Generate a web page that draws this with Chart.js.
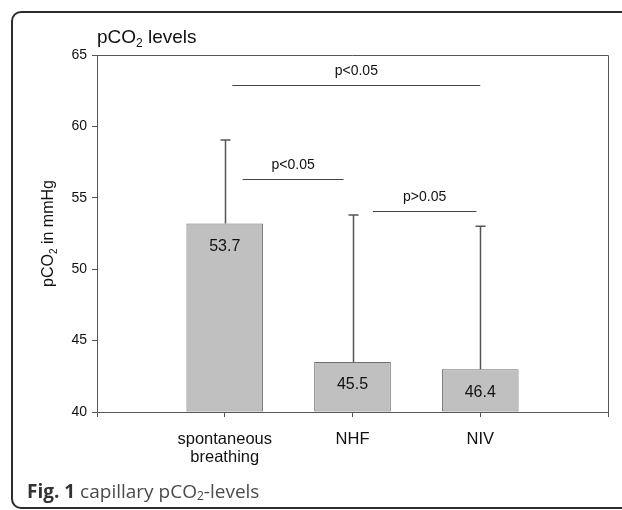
<!DOCTYPE html>
<html>
<head>
<meta charset="utf-8">
<script src="https://cdn.jsdelivr.net/npm/chart.js@4/dist/chart.umd.min.js"></script>
<style>
  body { margin: 0; background: #fff; }
  #wrap { position: relative; width: 622px; height: 510px; overflow: hidden; }
  #frame {
    position: absolute; left: 11px; top: 11px; width: 700px; height: 498px;
    box-sizing: border-box; border: 2px solid #2b2b2b; border-radius: 10px;
  }
  #chart { position: absolute; left: 0; top: 0; }
  #caption {
    position: absolute; left: 27px; top: 480px; line-height: 22px;
    font-family: "Open Sans", sans-serif; font-size: 19px; color: #4a4a4a; white-space: nowrap;
  }
  #caption b { color: #333; }
  #caption sub { font-size: 12px; vertical-align: -2px; }
</style>
</head>
<body>
<div id="wrap">
  <div id="frame"></div>
  <canvas id="chart" width="622" height="510"></canvas>
  <div id="caption"><b>Fig. 1</b> capillary pCO<sub>2</sub>-levels</div>
</div>
<script>
// カテゴリと値
const categories = [['spontaneous', 'breathing'], 'NHF', 'NIV'];
const xPositions = [1, 2, 3];
const barValues = [53.2, 43.5, 43.0];
const errorTop = [59.05, 53.8, 53.0];
const valueLabels = ['53.7', '45.5', '46.4'];
const yTicks = [40, 45, 50, 55, 60, 65];

// 有意差の表示
const sigText = ['p<0.05', 'p<0.05', 'p>0.05'];
const sigFrom = [1.06, 1.14, 2.16];
const sigTo = [3.0, 1.93, 2.97];
const sigLevel = [62.9, 56.3, 54.05];

const FONT = '"Liberation Sans", Arial, sans-serif';
const AXIS = '#555';

// エラーバー・ラベル・枠などを描くプラグイン
const extrasPlugin = {
  id: 'extras',
  afterDatasetsDraw(chart) {
    const ctx = chart.ctx;
    const x = chart.scales.x;
    const y = chart.scales.y;
    const area = chart.chartArea;
    ctx.save();

    // 上と右の枠線
    ctx.strokeStyle = AXIS;
    ctx.lineWidth = 1;
    ctx.beginPath();
    ctx.moveTo(area.left, area.top + 0.5);
    ctx.lineTo(area.right + 0.5, area.top + 0.5);
    ctx.lineTo(area.right + 0.5, area.bottom);
    ctx.stroke();

    // エラーバー
    ctx.strokeStyle = '#555';
    ctx.lineWidth = 1.5;
    xPositions.forEach((xv, i) => {
      const px = Math.round(x.getPixelForValue(xv)) + 0.5;
      const y0 = y.getPixelForValue(barValues[i]);
      const y1 = y.getPixelForValue(errorTop[i]);
      ctx.beginPath();
      ctx.moveTo(px, y0);
      ctx.lineTo(px, y1);
      ctx.moveTo(px - 5, y1);
      ctx.lineTo(px + 5, y1);
      ctx.stroke();
    });

    // 棒の中の数値
    ctx.fillStyle = '#111';
    ctx.font = '16px ' + FONT;
    ctx.textAlign = 'center';
    ctx.textBaseline = 'middle';
    xPositions.forEach((xv, i) => {
      const px = x.getPixelForValue(xv);
      const py = y.getPixelForValue(barValues[i]) + 23;
      ctx.fillText(valueLabels[i], px, py);
    });

    // 有意差の線と文字
    ctx.strokeStyle = '#444';
    ctx.lineWidth = 1;
    ctx.font = '14px ' + FONT;
    ctx.textBaseline = 'alphabetic';
    sigText.forEach((t, i) => {
      const xa = x.getPixelForValue(sigFrom[i]);
      const xb = x.getPixelForValue(sigTo[i]);
      const py = Math.round(y.getPixelForValue(sigLevel[i])) + 0.5;
      ctx.beginPath();
      ctx.moveTo(xa, py);
      ctx.lineTo(xb, py);
      ctx.stroke();
      ctx.fillText(t, (xa + xb) / 2, py - 11);
    });

    // タイトル
    ctx.textAlign = 'left';
    ctx.fillStyle = '#111';
    let tx = area.left;
    ctx.font = '19px ' + FONT;
    ctx.fillText('pCO', tx, 43);
    tx += ctx.measureText('pCO').width;
    ctx.font = '12px ' + FONT;
    ctx.fillText('2', tx, 47);
    tx += ctx.measureText('2').width;
    ctx.font = '19px ' + FONT;
    ctx.fillText(' levels', tx, 43);

    // Y軸タイトル（回転）
    const parts = [['pCO', 16, 0], ['2', 10, 4], [' in mmHg', 16, 0]];
    let total = 0;
    parts.forEach(p => { ctx.font = p[1] + 'px ' + FONT; total += ctx.measureText(p[0]).width; });
    ctx.translate(53, (area.top + area.bottom) / 2);
    ctx.rotate(-Math.PI / 2);
    let lx = -total / 2;
    parts.forEach(p => {
      ctx.font = p[1] + 'px ' + FONT;
      ctx.fillText(p[0], lx, p[2]);
      lx += ctx.measureText(p[0]).width;
    });

    ctx.restore();
  }
};

const ctx = document.getElementById('chart').getContext('2d');
new Chart(ctx, {
  type: 'bar',
  data: {
    datasets: [{
      data: xPositions.map((xv, i) => ({ x: xv, y: barValues[i] })),
      base: 40,
      backgroundColor: '#c0c0c0',
      borderColor: '#6e6e6e',
      borderWidth: 1,
      borderSkipped: false,
      barPercentage: 0.6,
      categoryPercentage: 1.0
    }]
  },
  options: {
    responsive: false,
    animation: false,
    layout: { padding: { left: 0, top: 55, right: 14, bottom: 28 } },
    plugins: { legend: { display: false }, tooltip: { enabled: false } },
    scales: {
      x: {
        type: 'linear',
        min: 0,
        max: 4,
        offset: false,
        afterFit: s => { s.height = 70; },
        grid: { offset: false, drawOnChartArea: false, drawTicks: true, tickLength: 5, color: AXIS },
        border: { display: true, color: AXIS, width: 1 },
        ticks: {
          stepSize: 1,
          autoSkip: false,
          maxRotation: 0,
          padding: 13,
          color: '#111',
          font: { family: FONT, size: 16.5, lineHeight: 1.1 },
          callback: v => categories[v - 1] || ''
        }
      },
      y: {
        min: 40,
        max: 65,
        afterFit: s => { s.width = 97; },
        afterBuildTicks: s => { s.ticks = yTicks.map(v => ({ value: v })); },
        grid: { drawOnChartArea: false, drawTicks: true, tickLength: 5, color: AXIS },
        border: { display: true, color: AXIS, width: 1 },
        ticks: { padding: 5, color: '#111', font: { family: FONT, size: 14 } }
      }
    }
  },
  plugins: [extrasPlugin]
});
</script>
</body>
</html>
